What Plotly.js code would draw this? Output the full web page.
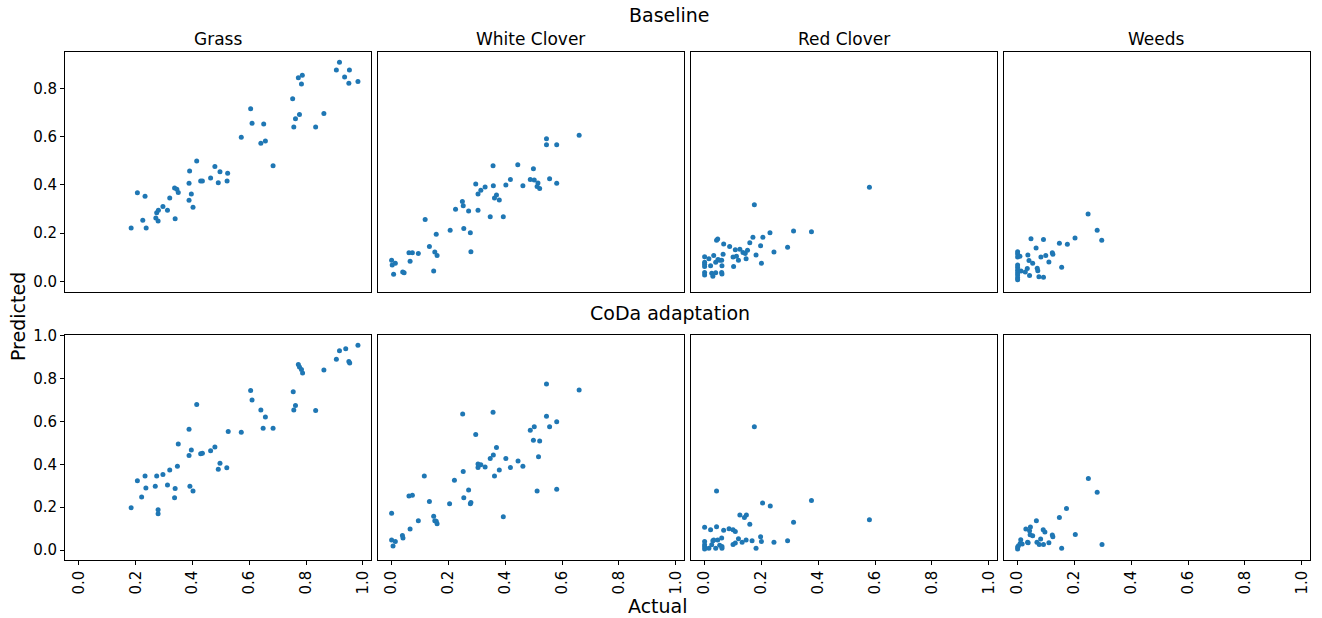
<!DOCTYPE html>
<html>
<head>
<meta charset="utf-8">
<script src="https://cdn.plot.ly/plotly-3.0.1.min.js"></script>
<style>html,body{margin:0;padding:0;background:#fff;}#chart{width:1322px;height:618px;}</style>
</head>
<body>
<div id="chart"></div>
<script>
// ---- Data (Actual vs Predicted) ----
const categories = ["Grass", "White Clover", "Red Clover", "Weeds"];
const rowTitles = ["Baseline", "CoDa adaptation"];
const xTickVals = [0.0, 0.2, 0.4, 0.6, 0.8, 1.0];
const xTickText = ["0.0", "0.2", "0.4", "0.6", "0.8", "1.0"];
const yTickValsTop = [0.0, 0.2, 0.4, 0.6, 0.8];
const yTickTextTop = ["0.0", "0.2", "0.4", "0.6", "0.8"];
const yTickValsBottom = [0.0, 0.2, 0.4, 0.6, 0.8, 1.0];
const yTickTextBottom = ["0.0", "0.2", "0.4", "0.6", "0.8", "1.0"];

// Baseline
const grassBaseX = [0.184,0.206,0.233,0.225,0.237,0.271,0.274,0.280,0.279,0.296,0.312,0.320,0.339,0.337,0.345,0.350,0.390,0.388,0.396,0.388,0.402,0.415,0.429,0.435,0.464,0.479,0.497,0.491,0.524,0.522,0.572,0.605,0.610,0.651,0.641,0.657,0.684,0.753,0.763,0.777,0.757,0.773,0.787,0.784,0.834,0.863,0.907,0.918,0.953,0.936,0.951,0.983];
const grassBaseY = [0.221,0.368,0.353,0.253,0.221,0.263,0.285,0.295,0.250,0.311,0.295,0.346,0.260,0.387,0.382,0.369,0.458,0.407,0.362,0.336,0.307,0.499,0.416,0.416,0.429,0.477,0.455,0.409,0.448,0.416,0.598,0.716,0.656,0.653,0.573,0.582,0.480,0.758,0.675,0.692,0.640,0.845,0.855,0.819,0.640,0.697,0.877,0.909,0.877,0.848,0.822,0.829];

const whiteBaseX = [0.000,0.002,0.013,0.007,0.039,0.044,0.065,0.061,0.073,0.094,0.118,0.133,0.148,0.152,0.160,0.157,0.206,0.225,0.249,0.252,0.254,0.271,0.277,0.279,0.296,0.304,0.304,0.314,0.329,0.347,0.357,0.358,0.362,0.369,0.379,0.393,0.402,0.418,0.444,0.462,0.488,0.499,0.502,0.515,0.512,0.521,0.545,0.545,0.581,0.556,0.581,0.660];
const whiteBaseY = [0.087,0.068,0.075,0.029,0.039,0.036,0.083,0.119,0.119,0.115,0.257,0.144,0.043,0.122,0.107,0.195,0.212,0.299,0.331,0.314,0.219,0.292,0.202,0.123,0.404,0.362,0.295,0.378,0.391,0.268,0.480,0.397,0.346,0.358,0.337,0.268,0.400,0.423,0.484,0.397,0.423,0.467,0.420,0.408,0.394,0.385,0.592,0.567,0.567,0.426,0.407,0.606];

const redBaseX = [0.000,0.000,0.000,0.000,0.000,0.000,0.015,0.021,0.025,0.029,0.032,0.039,0.039,0.042,0.046,0.047,0.053,0.060,0.061,0.060,0.061,0.065,0.067,0.088,0.102,0.100,0.108,0.112,0.119,0.124,0.135,0.143,0.146,0.151,0.159,0.170,0.175,0.181,0.197,0.200,0.205,0.230,0.244,0.292,0.313,0.376,0.580];
const redBaseY = [0.102,0.079,0.071,0.061,0.037,0.026,0.094,0.065,0.033,0.021,0.107,0.036,0.079,0.170,0.176,0.091,0.087,0.087,0.065,0.037,0.030,0.112,0.155,0.145,0.062,0.101,0.131,0.104,0.087,0.133,0.120,0.115,0.094,0.129,0.160,0.183,0.318,0.109,0.148,0.075,0.183,0.202,0.122,0.141,0.209,0.206,0.390];

const weedsBaseX = [0.000,0.000,0.000,0.008,0.000,0.000,0.000,0.000,0.000,0.000,0.000,0.012,0.027,0.034,0.036,0.040,0.042,0.047,0.053,0.065,0.069,0.071,0.075,0.082,0.091,0.091,0.099,0.110,0.122,0.124,0.147,0.155,0.175,0.202,0.248,0.280,0.296];
const weedsBaseY = [0.123,0.113,0.101,0.104,0.068,0.057,0.046,0.036,0.026,0.015,0.006,0.043,0.039,0.053,0.109,0.086,0.024,0.177,0.075,0.138,0.054,0.044,0.019,0.101,0.174,0.017,0.107,0.080,0.119,0.112,0.158,0.058,0.154,0.180,0.279,0.212,0.170];

// CoDa adaptation
const grassCodaX = [0.184,0.206,0.233,0.236,0.221,0.269,0.274,0.296,0.279,0.279,0.312,0.320,0.339,0.337,0.347,0.350,0.388,0.388,0.396,0.391,0.402,0.415,0.429,0.435,0.464,0.479,0.497,0.491,0.521,0.526,0.572,0.605,0.610,0.641,0.657,0.649,0.684,0.755,0.763,0.757,0.773,0.777,0.784,0.788,0.834,0.863,0.907,0.918,0.940,0.951,0.954,0.983];
const grassCodaY = [0.197,0.323,0.345,0.290,0.247,0.298,0.345,0.352,0.188,0.169,0.303,0.373,0.287,0.244,0.391,0.495,0.564,0.441,0.467,0.298,0.276,0.679,0.449,0.452,0.463,0.481,0.405,0.377,0.384,0.553,0.550,0.744,0.700,0.654,0.621,0.568,0.568,0.739,0.675,0.654,0.866,0.854,0.843,0.826,0.651,0.840,0.890,0.930,0.939,0.880,0.873,0.955];

const whiteCodaX = [0.000,0.000,0.013,0.005,0.038,0.040,0.065,0.061,0.073,0.094,0.115,0.133,0.148,0.152,0.157,0.160,0.204,0.221,0.250,0.252,0.254,0.271,0.277,0.279,0.296,0.304,0.304,0.314,0.329,0.347,0.357,0.358,0.362,0.369,0.379,0.393,0.402,0.418,0.445,0.462,0.488,0.502,0.499,0.521,0.517,0.512,0.545,0.545,0.556,0.581,0.581,0.660];
const whiteCodaY = [0.172,0.047,0.040,0.019,0.068,0.056,0.098,0.252,0.256,0.137,0.345,0.227,0.158,0.137,0.134,0.123,0.216,0.326,0.635,0.366,0.244,0.280,0.216,0.222,0.539,0.401,0.385,0.398,0.388,0.427,0.643,0.443,0.345,0.478,0.374,0.155,0.427,0.385,0.416,0.391,0.559,0.575,0.512,0.509,0.435,0.276,0.775,0.624,0.575,0.599,0.284,0.747];

const redCodaX = [0.000,0.000,0.000,0.000,0.000,0.015,0.021,0.025,0.029,0.032,0.039,0.042,0.042,0.046,0.053,0.060,0.061,0.061,0.067,0.086,0.100,0.108,0.100,0.108,0.119,0.124,0.132,0.140,0.147,0.146,0.159,0.167,0.175,0.181,0.197,0.200,0.204,0.231,0.244,0.292,0.313,0.376,0.580];
const redCodaY = [0.106,0.040,0.025,0.016,0.005,0.009,0.095,0.025,0.043,0.047,0.009,0.276,0.109,0.047,0.022,0.056,0.009,0.017,0.092,0.099,0.095,0.087,0.026,0.033,0.053,0.163,0.037,0.152,0.163,0.047,0.120,0.043,0.575,0.009,0.062,0.040,0.220,0.205,0.037,0.043,0.130,0.231,0.141];

const weedsCodaX = [0.000,0.000,0.003,0.009,0.011,0.016,0.029,0.035,0.037,0.042,0.045,0.044,0.053,0.066,0.068,0.076,0.081,0.090,0.096,0.091,0.110,0.122,0.124,0.147,0.155,0.172,0.203,0.249,0.280,0.297];
const weedsCodaY = [0.005,0.014,0.020,0.031,0.048,0.028,0.098,0.037,0.034,0.090,0.107,0.071,0.067,0.137,0.037,0.026,0.051,0.095,0.084,0.026,0.034,0.070,0.062,0.152,0.009,0.194,0.073,0.334,0.270,0.026];

const panelX = [grassBaseX, whiteBaseX, redBaseX, weedsBaseX, grassCodaX, whiteCodaX, redCodaX, weedsCodaX];
const panelY = [grassBaseY, whiteBaseY, redBaseY, weedsBaseY, grassCodaY, whiteCodaY, redCodaY, weedsCodaY];

// ---- Layout ----
const W = 1322, H = 618;
const colPx = [[65, 371], [377.7, 684], [690.7, 997], [1003.7, 1310]];
const rowPx = [[51.7, 292.3], [335.3, 559.7]];
const FONT = "DejaVu Sans, Liberation Sans, sans-serif";
const BLUE = "#1f77b4";

const traces = [];
const layout = {
  width: W, height: H,
  margin: {l: 0, r: 0, t: 0, b: 0},
  paper_bgcolor: "#ffffff", plot_bgcolor: "#ffffff",
  showlegend: false,
  font: {family: FONT, color: "#000000", size: 15},
  annotations: []
};

for (let i = 0; i < 8; i++) {
  const r = Math.floor(i / 4), c = i % 4;
  const n = i + 1;
  const xa = "xaxis" + (n === 1 ? "" : n), ya = "yaxis" + (n === 1 ? "" : n);
  traces.push({
    type: "scatter", mode: "markers",
    x: panelX[i], y: panelY[i],
    xaxis: "x" + (n === 1 ? "" : n), yaxis: "y" + (n === 1 ? "" : n),
    marker: {color: BLUE, size: 5, line: {width: 0}},
    cliponaxis: false, hoverinfo: "x+y"
  });
  const bottom = r === 1, left = c === 0;
  layout[xa] = {
    domain: [colPx[c][0] / W, colPx[c][1] / W],
    anchor: "y" + (n === 1 ? "" : n),
    range: [-0.049, 1.029],
    showline: true, mirror: true, linecolor: "#000000", linewidth: 1,
    showgrid: false, zeroline: false,
    tickmode: "array", tickvals: xTickVals, ticktext: xTickText,
    ticks: bottom ? "outside" : "", ticklen: 4, tickwidth: 1, tickcolor: "#000000",
    showticklabels: bottom, tickangle: -90,
    tickfont: {family: FONT, size: 15, color: "#000000"}
  };
  layout[ya] = {
    domain: [1 - rowPx[r][1] / H, 1 - rowPx[r][0] / H],
    anchor: "x" + (n === 1 ? "" : n),
    range: r === 0 ? [-0.0456, 0.953] : [-0.045, 1.002],
    showline: true, mirror: true, linecolor: "#000000", linewidth: 1,
    showgrid: false, zeroline: false,
    tickmode: "array",
    tickvals: r === 0 ? yTickValsTop : yTickValsBottom,
    ticktext: r === 0 ? yTickTextTop : yTickTextBottom,
    ticks: left ? "outside" : "", ticklen: 4, tickwidth: 1, tickcolor: "#000000",
    showticklabels: left,
    tickfont: {family: FONT, size: 15, color: "#000000"}
  };
  if (r === 0) {
    layout.annotations.push({
      text: categories[c], xref: "paper", yref: "paper",
      x: (colPx[c][0] + colPx[c][1]) / 2 / W, y: 1 - 39 / H,
      xanchor: "center", yanchor: "middle", showarrow: false,
      font: {family: FONT, size: 17, color: "#000000"}
    });
  }
}

layout.annotations.push({
  text: rowTitles[0], xref: "paper", yref: "paper",
  x: 670 / W, y: 1 - 15 / H, xanchor: "center", yanchor: "middle", showarrow: false,
  font: {family: FONT, size: 19, color: "#000000"}
});
layout.annotations.push({
  text: rowTitles[1], xref: "paper", yref: "paper",
  x: 670 / W, y: 1 - 313 / H, xanchor: "center", yanchor: "middle", showarrow: false,
  font: {family: FONT, size: 19, color: "#000000"}
});
layout.annotations.push({
  text: "Actual", xref: "paper", yref: "paper",
  x: 658 / W, y: 1 - 606 / H, xanchor: "center", yanchor: "middle", showarrow: false,
  font: {family: FONT, size: 19, color: "#000000"}
});
layout.annotations.push({
  text: "Predicted", xref: "paper", yref: "paper",
  x: 18 / W, y: 1 - 317 / H, xanchor: "center", yanchor: "middle", showarrow: false,
  textangle: -90,
  font: {family: FONT, size: 19, color: "#000000"}
});

Plotly.newPlot("chart", traces, layout, {displayModeBar: false, staticPlot: true});
</script>
</body>
</html>
